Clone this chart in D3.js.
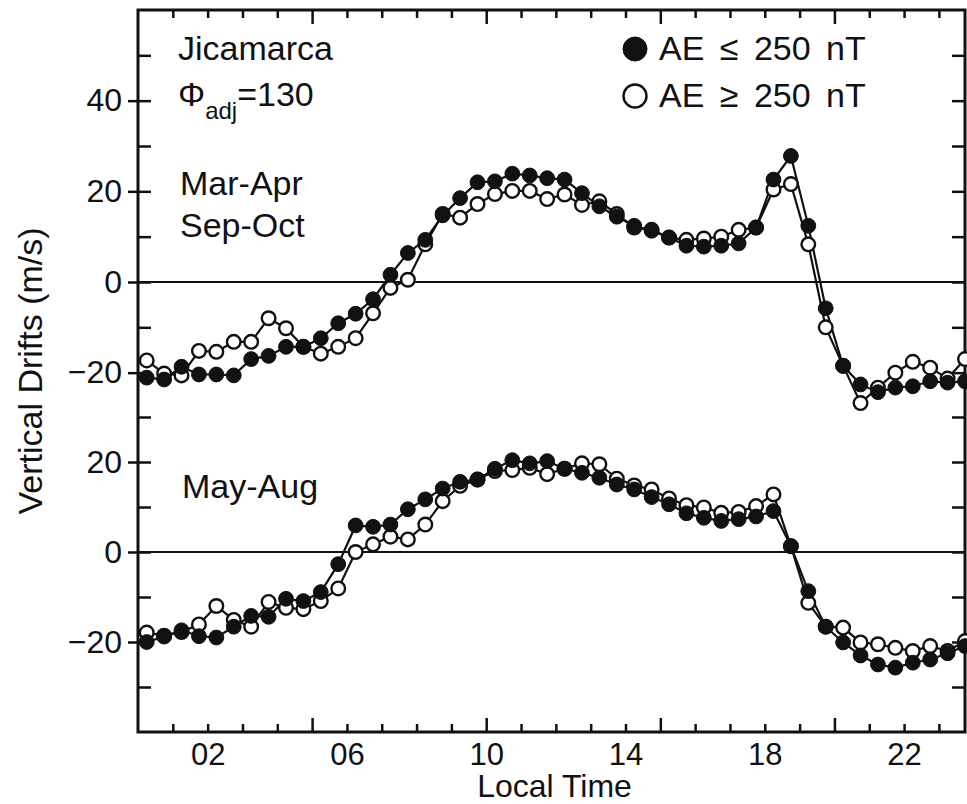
<!DOCTYPE html>
<meta charset="utf-8">

<head>
    <title>Jicamarca vertical drifts</title>
</head>

<style>
    body {
        margin: 0;
        background: #fff;
    }

    text {
        font-family: 'Liberation Sans', Arial, sans-serif;
        fill: #111;
    }

    .tick text {
        font-size: 32px;
        font-family: 'Liberation Sans', Arial, sans-serif;
    }

    .x-labels .tick text {
        font-size: 31px;
    }

    .tick line {
        stroke: #111;
        stroke-width: 2.5;
    }

    .label {
        font-size: 34px;
    }

    .title {
        font-size: 32px;
    }

    .legend_text {
        font-size: 34px;
        word-spacing: 6px;
    }
</style>

<body>
    <svg id="chart" width="967" height="804"></svg>

    <script src="https://d3js.org/d3.v7.min.js"></script>
    <script>
        // local time of each point (hours), half-hourly bins
        const hours = [0.25, 0.75, 1.25, 1.75, 2.25, 2.75, 3.25, 3.75, 4.25, 4.75, 5.25, 5.75,
            6.25, 6.75, 7.25, 7.75, 8.25, 8.75, 9.25, 9.75, 10.25, 10.75, 11.25, 11.75,
            12.25, 12.75, 13.25, 13.75, 14.25, 14.75, 15.25, 15.75, 16.25, 16.75, 17.25, 17.75,
            18.25, 18.75, 19.25, 19.75, 20.25, 20.75, 21.25, 21.75, 22.25, 22.75, 23.25, 23.75];

        // Mar-Apr / Sep-Oct (upper panel)
        const equinoxQuiet = [-21.1, -21.5, -18.7, -20.4, -20.4, -20.6, -17.0, -16.3, -14.3, -14.3, -12.4, -9.1,
            -7.0, -3.8, 1.6, 6.4, 9.3, 14.7, 18.5, 22.0, 22.2, 23.9, 23.5, 22.9,
            22.6, 19.6, 16.7, 14.4, 12.4, 11.3, 9.8, 8.0, 7.8, 8.0, 8.5, 12.0,
            22.6, 27.8, 12.4, -5.8, -18.5, -22.6, -24.3, -23.3, -23.0, -21.9, -22.2, -21.9];
        const equinoxActive = [-17.3, -20.2, -20.6, -15.2, -15.4, -13.2, -13.2, -8.0, -10.2, -14.3, -15.8, -14.3,
            -12.4, -6.9, -1.3, 0.5, 8.3, 15.0, 14.2, 17.2, 19.4, 20.1, 20.1, 18.3,
            19.3, 17.0, 17.8, 15.0, 12.0, 11.5, 9.8, 9.3, 9.6, 10.0, 11.5, 12.0,
            20.4, 21.6, 8.3, -10.0, -18.5, -26.7, -23.3, -20.0, -17.6, -18.9, -21.3, -17.0];

        // May-Aug (lower panel)
        const solsticeQuiet = [-20.0, -18.8, -17.4, -18.7, -19.0, -16.6, -14.2, -14.4, -10.4, -10.9, -8.9, -2.7,
            5.9, 5.6, 6.1, 9.5, 11.7, 14.1, 15.6, 16.1, 18.5, 20.4, 19.7, 20.2,
            18.5, 17.6, 16.5, 15.0, 13.9, 12.2, 10.6, 8.6, 7.6, 6.9, 7.3, 7.9,
            9.1, 1.3, -8.7, -16.6, -20.1, -23.0, -25.0, -25.7, -24.6, -23.9, -22.5, -20.9];
        const solsticeActive = [-17.9, -18.6, -17.8, -16.1, -12.0, -15.1, -16.6, -11.1, -12.4, -12.7, -10.9, -8.1,
            0.0, 1.7, 3.4, 2.8, 6.1, 11.3, 14.7, 16.1, 18.0, 18.2, 18.7, 17.3,
            18.5, 19.7, 19.5, 16.3, 14.8, 13.9, 11.9, 10.4, 9.9, 8.7, 8.9, 10.2,
            12.8, 1.3, -11.3, -16.6, -16.8, -20.1, -20.5, -21.3, -22.0, -20.9, -22.0, -19.8];

        const xLabelTicks = [2, 6, 10, 14, 18, 22];
        const xMinorTicks = [1, 2, 3, 4, 6, 7, 8, 9, 11, 12, 13, 14, 16, 17, 18, 19, 21, 22, 23];
        const xMajorTicks = [5, 10, 15, 20];
        const upperLabelTicks = [-20, 0, 20, 40];
        const upperMinorTicks = [-20, -10, 0, 10, 20, 30, 40, 50];
        const lowerLabelTicks = [-20, 0, 20];
        const lowerMinorTicks = [-30, -20, -10, 0, 10, 20, 30];
        const legendLabels = ["AE \u2264 250 nT", "AE \u2265 250 nT"];

        const chart = d3.select("#chart");
        const plotLeft = 138, plotRight = 965, plotTop = 10, plotBottom = 732;

        const x = d3.scaleLinear().domain([0, 23.75]).range([plotLeft, plotRight]);
        const yUpper = d3.scaleLinear().domain([-30, 60]).range([plotTop + 408, plotTop]);
        const yLower = d3.scaleLinear().domain([-40, 30]).range([plotBottom, plotBottom - 315]);

        function axisGroup(axis, tx, ty) {
            const g = chart.append("g")
                .attr("transform", "translate(" + tx + "," + ty + ")")
                .call(axis);
            g.select(".domain").remove();
            return g;
        }

        //left axis: labelled ticks cross the frame, all ticks point inward
        axisGroup(d3.axisLeft(yUpper).tickValues(upperLabelTicks).tickSize(10).tickPadding(6), plotLeft, 0);
        axisGroup(d3.axisLeft(yLower).tickValues(lowerLabelTicks).tickSize(10).tickPadding(6), plotLeft, 0);
        axisGroup(d3.axisRight(yUpper).tickValues(upperMinorTicks).tickSize(13).tickFormat(""), plotLeft, 0);
        axisGroup(d3.axisRight(yLower).tickValues(lowerMinorTicks).tickSize(13).tickFormat(""), plotLeft, 0);

        //right axis
        axisGroup(d3.axisLeft(yUpper).tickValues(upperMinorTicks).tickSize(13).tickFormat(""), plotRight, 0);
        axisGroup(d3.axisLeft(yLower).tickValues(lowerMinorTicks).tickSize(13).tickFormat(""), plotRight, 0);

        //bottom and top axes
        axisGroup(d3.axisTop(x).tickValues(xMinorTicks).tickSize(8).tickFormat(""), 0, plotBottom);
        axisGroup(d3.axisTop(x).tickValues(xMajorTicks).tickSize(14).tickFormat(""), 0, plotBottom);
        axisGroup(d3.axisBottom(x).tickValues(xMinorTicks).tickSize(8).tickFormat(""), 0, plotTop);
        axisGroup(d3.axisBottom(x).tickValues(xMajorTicks).tickSize(14).tickFormat(""), 0, plotTop);
        axisGroup(d3.axisBottom(x).tickValues(xLabelTicks).tickSize(0).tickPadding(11)
            .tickFormat(d3.format("02d")), 0, plotBottom)
            .attr("class", "x-labels");

        //frame and zero lines
        chart.append("rect")
            .attr("x", x(0))
            .attr("y", yUpper(60))
            .attr("width", x(23.75) - x(0))
            .attr("height", yLower(-40) - yUpper(60))
            .attr("fill", "none")
            .attr("stroke", "#111")
            .attr("stroke-width", 3);

        [yUpper, yLower].forEach(scale => {
            chart.append("line")
                .attr("x1", x(0))
                .attr("x2", x(23.75))
                .attr("y1", scale(0))
                .attr("y2", scale(0))
                .attr("stroke", "#111")
                .attr("stroke-width", 2.2);
        });

        //series
        function drawSeries(values, scale) {
            const points = values.map((v, i) => ({ t: hours[i], v: v }));
            const line = d3.line()
                .x(d => x(d.t))
                .y(d => scale(d.v));
            chart.append("path")
                .attr("d", line(points))
                .attr("fill", "none")
                .attr("stroke", "#111")
                .attr("stroke-width", 2.2);
            return points;
        }

        function drawMarkers(points, scale, filled) {
            chart.append("g")
                .selectAll("circle")
                .data(points)
                .enter()
                .append("circle")
                .attr("cx", d => x(d.t))
                .attr("cy", d => scale(d.v))
                .attr("r", filled ? 7.4 : 6.8)
                .attr("fill", filled ? "#111" : "#fff")
                .attr("stroke", "#111")
                .attr("stroke-width", filled ? 1 : 2.4);
        }

        const eqA = drawSeries(equinoxActive, yUpper);
        const eqQ = drawSeries(equinoxQuiet, yUpper);
        const soA = drawSeries(solsticeActive, yLower);
        const soQ = drawSeries(solsticeQuiet, yLower);
        drawMarkers(eqA, yUpper, false);
        drawMarkers(soA, yLower, false);
        drawMarkers(eqQ, yUpper, true);
        drawMarkers(soQ, yLower, true);

        //annotations
        chart.append("text").attr("class", "label").attr("x", 178).attr("y", 60).text("Jicamarca");

        const phi = chart.append("text").attr("class", "label").attr("x", 178).attr("y", 106);
        phi.append("tspan").text("\u03A6");
        phi.append("tspan").attr("dy", 13).style("font-size", "24px").text("adj");
        phi.append("tspan").attr("dy", -13).text("=130");

        chart.append("text").attr("class", "label").attr("x", 180).attr("y", 195).text("Mar-Apr");
        chart.append("text").attr("class", "label").attr("x", 180).attr("y", 237).text("Sep-Oct");
        chart.append("text").attr("class", "label").attr("x", 182).attr("y", 498).text("May-Aug");

        //legend
        const legend = chart.append("g")
            .selectAll("legend_entries")
            .data(legendLabels)
            .enter();

        legend.append("circle")
            .attr("cx", 635)
            .attr("cy", (d, i) => 49 + i * 47)
            .attr("r", (d, i) => i == 0 ? 12 : 11.5)
            .attr("fill", (d, i) => i == 0 ? "#111" : "#fff")
            .attr("stroke", "#111")
            .attr("stroke-width", (d, i) => i == 0 ? 1 : 2.4);

        legend.append("text")
            .attr("class", "legend_text")
            .attr("x", 659)
            .attr("y", (d, i) => 60 + i * 47)
            .text(d => d);

        //axis titles
        chart.append("text")
            .attr("class", "title")
            .attr("text-anchor", "middle")
            .attr("x", (plotLeft + plotRight) / 2 + 3)
            .attr("y", 797)
            .text("Local Time");

        chart.append("text")
            .attr("class", "label")
            .attr("text-anchor", "middle")
            .attr("transform", "translate(42," + (plotTop + plotBottom) / 2 + ")rotate(-90)")
            .text("Vertical Drifts (m/s)");
    </script>
</body>

</html>
